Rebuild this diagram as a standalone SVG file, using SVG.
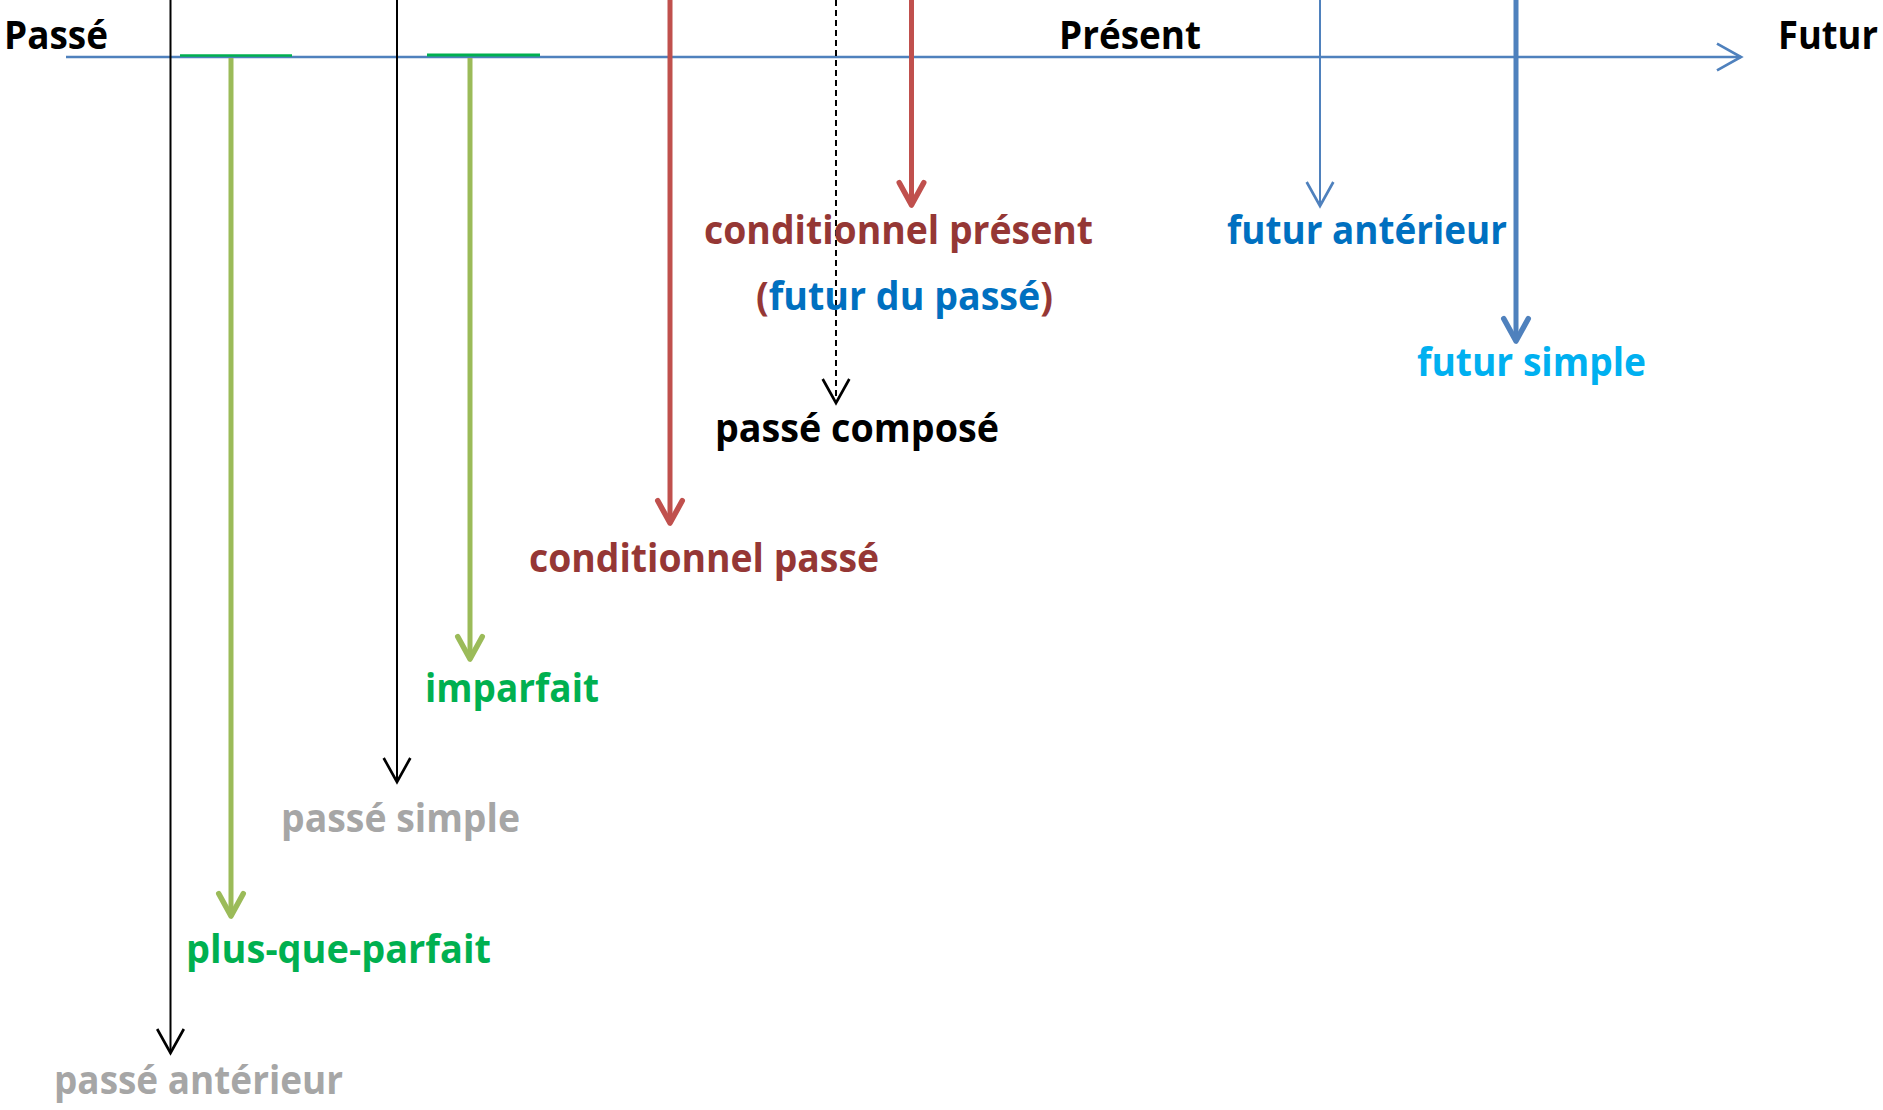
<svg xmlns="http://www.w3.org/2000/svg" width="1883" height="1110" viewBox="0 0 1883 1110">
<style>
text{font-family:"Open Sans","Noto Sans","Liberation Sans",sans-serif;font-weight:700;font-size:39px}
.blk{fill:#000}
.red{fill:#953735}
.blu{fill:#0070C0}
.cyan{fill:#00B0F0}
.grn{fill:#00B050}
.gry{fill:#A6A6A6}
.thin{stroke-width:2;fill:none}
.thick{stroke-width:5;fill:none}
</style>
<defs>
<marker id="hBlack" markerUnits="userSpaceOnUse" orient="auto" refX="0" refY="0" markerWidth="40" markerHeight="40" viewBox="-25 -15 30 30" overflow="visible"><path d="M-18,-10 L0,0 L-18,10" fill="none" stroke="#000" stroke-width="2"/></marker>
<marker id="hBlueThin" markerUnits="userSpaceOnUse" orient="auto" refX="0" refY="0" markerWidth="40" markerHeight="40" viewBox="-25 -15 30 30" overflow="visible"><path d="M-18,-10 L0,0 L-18,10" fill="none" stroke="#4F81BD" stroke-width="2"/></marker>
<marker id="hGreen" markerUnits="userSpaceOnUse" orient="auto" refX="0" refY="0" markerWidth="40" markerHeight="40" viewBox="-30 -18 36 36" overflow="visible"><path d="M-20,-11 L0,0 L-20,11" fill="none" stroke="#9BBB59" stroke-width="5" stroke-linejoin="round" stroke-linecap="round"/></marker>
<marker id="hRed" markerUnits="userSpaceOnUse" orient="auto" refX="0" refY="0" markerWidth="40" markerHeight="40" viewBox="-30 -18 36 36" overflow="visible"><path d="M-20,-11 L0,0 L-20,11" fill="none" stroke="#C0504D" stroke-width="5" stroke-linejoin="round" stroke-linecap="round"/></marker>
<marker id="hBlueThick" markerUnits="userSpaceOnUse" orient="auto" refX="0" refY="0" markerWidth="40" markerHeight="40" viewBox="-30 -18 36 36" overflow="visible"><path d="M-20,-11 L0,0 L-20,11" fill="none" stroke="#4F81BD" stroke-width="5" stroke-linejoin="round" stroke-linecap="round"/></marker>
</defs>
<rect width="1883" height="1110" fill="#fff"/>
<g id="connectors">
<line id="axis" x1="66" y1="57" x2="1741" y2="57" stroke="#4F81BD" stroke-width="2.5" marker-end="url(#hBlueThin)"/>
<line x1="180" y1="55.5" x2="292" y2="55.5" stroke="#00B050" stroke-width="2.5"/>
<line x1="427" y1="55" x2="540" y2="55" stroke="#00B050" stroke-width="3"/>
<line class="thin" x1="170.5" y1="0" x2="170.5" y2="1053" stroke="#000" marker-end="url(#hBlack)"/>
<line class="thin" x1="397" y1="0" x2="397" y2="782" stroke="#000" marker-end="url(#hBlack)"/>
<line class="thick" x1="231" y1="58" x2="231" y2="916" stroke="#9BBB59" marker-end="url(#hGreen)"/>
<line class="thick" x1="470" y1="58" x2="470" y2="659" stroke="#9BBB59" marker-end="url(#hGreen)"/>
<line class="thick" x1="670" y1="0" x2="670" y2="523" stroke="#C0504D" marker-end="url(#hRed)"/>
<line class="thin" x1="836" y1="0" x2="836" y2="403" stroke="#000" stroke-dasharray="6 4" marker-end="url(#hBlack)"/>
<line class="thick" x1="911.5" y1="0" x2="911.5" y2="205" stroke="#C0504D" marker-end="url(#hRed)"/>
<line class="thin" x1="1320" y1="0" x2="1320" y2="206" stroke="#4F81BD" marker-end="url(#hBlueThin)"/>
<line class="thick" x1="1516" y1="0" x2="1516" y2="341" stroke="#4F81BD" marker-end="url(#hBlueThick)"/>
</g>
<g id="passe"><text class="blk" x="4" y="49" textLength="104" lengthAdjust="spacingAndGlyphs">Passé</text></g>
<g id="present"><text class="blk" x="1059" y="49" textLength="142" lengthAdjust="spacingAndGlyphs">Présent</text></g>
<g id="futur"><text class="blk" x="1778" y="49" textLength="100" lengthAdjust="spacingAndGlyphs">Futur</text></g>
<g id="conditionnel-present">
<text class="red" x="704" y="244" textLength="389" lengthAdjust="spacingAndGlyphs">conditionnel présent</text>
<text x="756" y="310" textLength="297" lengthAdjust="spacingAndGlyphs"><tspan class="red">(</tspan><tspan class="blu">futur du passé</tspan><tspan class="red">)</tspan></text>
</g>
<g id="futur-anterieur"><text class="blu" x="1227" y="244" textLength="280" lengthAdjust="spacingAndGlyphs">futur antérieur</text></g>
<g id="futur-simple"><text class="cyan" x="1417" y="376" textLength="229" lengthAdjust="spacingAndGlyphs">futur simple</text></g>
<g id="passe-compose"><text class="blk" x="715" y="442" textLength="284" lengthAdjust="spacingAndGlyphs">passé composé</text></g>
<g id="conditionnel-passe"><text class="red" x="529" y="572" textLength="350" lengthAdjust="spacingAndGlyphs">conditionnel passé</text></g>
<g id="imparfait"><text class="grn" x="425" y="702" textLength="174" lengthAdjust="spacingAndGlyphs">imparfait</text></g>
<g id="passe-simple"><text class="gry" x="281" y="832" textLength="239" lengthAdjust="spacingAndGlyphs">passé simple</text></g>
<g id="plus-que-parfait"><text class="grn" x="186" y="963" textLength="305" lengthAdjust="spacingAndGlyphs">plus-que-parfait</text></g>
<g id="passe-anterieur"><text class="gry" x="54" y="1094" textLength="289" lengthAdjust="spacingAndGlyphs">passé antérieur</text></g>
</svg>
